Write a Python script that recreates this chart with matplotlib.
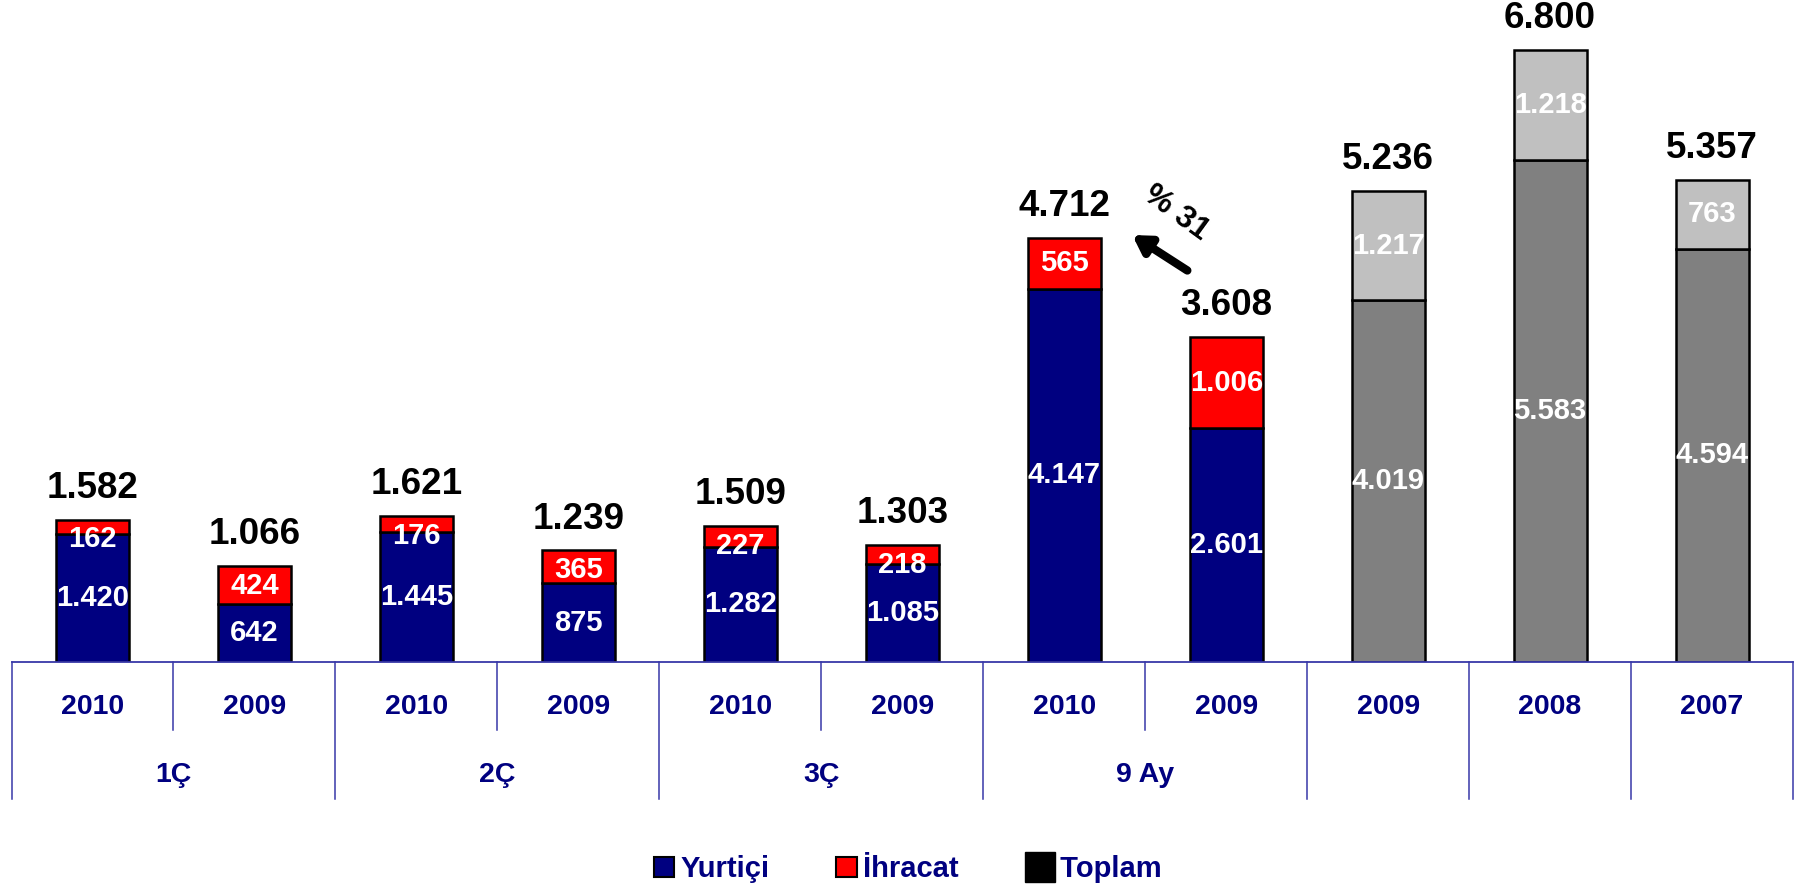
import matplotlib
matplotlib.use('Agg')
import matplotlib.pyplot as plt
from matplotlib.patches import Patch, Rectangle
from matplotlib.legend_handler import HandlerPatch

plt.rcParams['font.family'] = ['Liberation Sans', 'DejaVu Sans']
plt.rcParams['font.weight'] = 'bold'

# Chart data
years = ['2010', '2009', '2010', '2009', '2010', '2009', '2010', '2009',
         '2009', '2008', '2007']
groups = ['1Ç', '2Ç', '3Ç', '9 Ay']
group_centers = [0.5, 2.5, 4.5, 6.5]
domestic = [1420, 642, 1445, 875, 1282, 1085, 4147, 2601, 4019, 5583, 4594]
export = [162, 424, 176, 365, 227, 218, 565, 1006, 1217, 1218, 763]
totals = [1582, 1066, 1621, 1239, 1509, 1303, 4712, 3608, 5236, 6800, 5357]
growth_label = '% 31'

NAVY = '#000080'
RED = '#ff0000'
DGRAY = '#808080'
LGRAY = '#c0c0c0'
AXIS_BLUE = '#3838a8'


def fmt(v):
    return f"{v:,}".replace(',', '.')


def big_square(legend, orig_handle, xdescent, ydescent, width, height,
               fontsize):
    # Larger black square for the "Toplam" entry
    s = height * 1.45
    return Rectangle((-xdescent, -ydescent - (s - height) / 2), s, s)


fig = plt.figure(figsize=(17.97, 8.89), dpi=100)
ax = fig.add_axes([0.0064, 0.2553, 0.9914, 0.7447])

x = list(range(len(years)))
n_quarter = 8
bottom_colors = [NAVY] * n_quarter + [DGRAY] * (len(years) - n_quarter)
top_colors = [RED] * n_quarter + [LGRAY] * (len(years) - n_quarter)

ax.bar(x, domestic, width=0.45, color=bottom_colors, edgecolor='black',
       linewidth=1.8, zorder=3)
ax.bar(x, export, bottom=domestic, width=0.45, color=top_colors,
       edgecolor='black', linewidth=1.8, zorder=3)

# Segment labels
for i in x:
    ax.text(i, domestic[i] / 2, fmt(domestic[i]), ha='center', va='center',
            color='white', fontsize=21, zorder=4)
    top = domestic[i] + export[i]
    y = min(domestic[i] + export[i] / 2, top - 220)
    ax.text(i, y, fmt(export[i]), ha='center', va='center',
            color='white', fontsize=21, zorder=4)
    ax.annotate(fmt(totals[i]), (i, top), xytext=(0, 10),
                textcoords='offset points', ha='center', va='bottom',
                fontsize=26.5, color='black')

# Growth arrow
ax.annotate('', xy=(6.42, 4744), xytext=(6.76, 4350),
            arrowprops=dict(arrowstyle='-|>,head_width=0.6,head_length=1.0',
                            color='black', lw=6, shrinkA=0, shrinkB=0))
ax.text(6.69, 4990, growth_label, rotation=-36, ha='center', va='center',
        fontsize=23, color='black')

ax.set_xlim(-0.5, len(years) - 0.5)
ax.set_ylim(0, 7355)
ax.axis('off')

# Category axis
trans = ax.get_xaxis_transform()
ax.plot([-0.5, len(years) - 0.5], [0, 0], transform=trans, color=AXIS_BLUE,
        lw=1.3, clip_on=False, zorder=5)
short_seps = [0.5, 2.5, 4.5, 6.5]
for b in [i - 0.5 for i in range(len(years) + 1)]:
    y_end = -0.103 if b in short_seps else -0.207
    ax.plot([b, b], [0, y_end], transform=trans, color=AXIS_BLUE, lw=1.1,
            clip_on=False)
for i, yr in enumerate(years):
    ax.text(i, -0.068, yr, transform=trans, ha='center', va='center',
            color=NAVY, fontsize=20.5)
for gx, g in zip(group_centers, groups):
    ax.text(gx, -0.171, g, transform=trans, ha='center', va='center',
            color=NAVY, fontsize=20.5)

# Legend
handles = [Patch(facecolor=NAVY, edgecolor='black', linewidth=1.5),
           Patch(facecolor=RED, edgecolor='black', linewidth=1.5),
           Patch(facecolor='black', edgecolor='black')]
leg = fig.legend(handles, ['Yurtiçi', 'İhracat', ' Toplam'], ncol=3,
                 loc='center', bbox_to_anchor=(0.505, 0.022), frameon=False,
                 handlelength=0.7, handleheight=0.7, handletextpad=0.2,
                 columnspacing=2.3, fontsize=21,
                 handler_map={handles[2]: HandlerPatch(patch_func=big_square)})
for t in leg.get_texts():
    t.set_color(NAVY)

fig.savefig('out.png', dpi=100)
